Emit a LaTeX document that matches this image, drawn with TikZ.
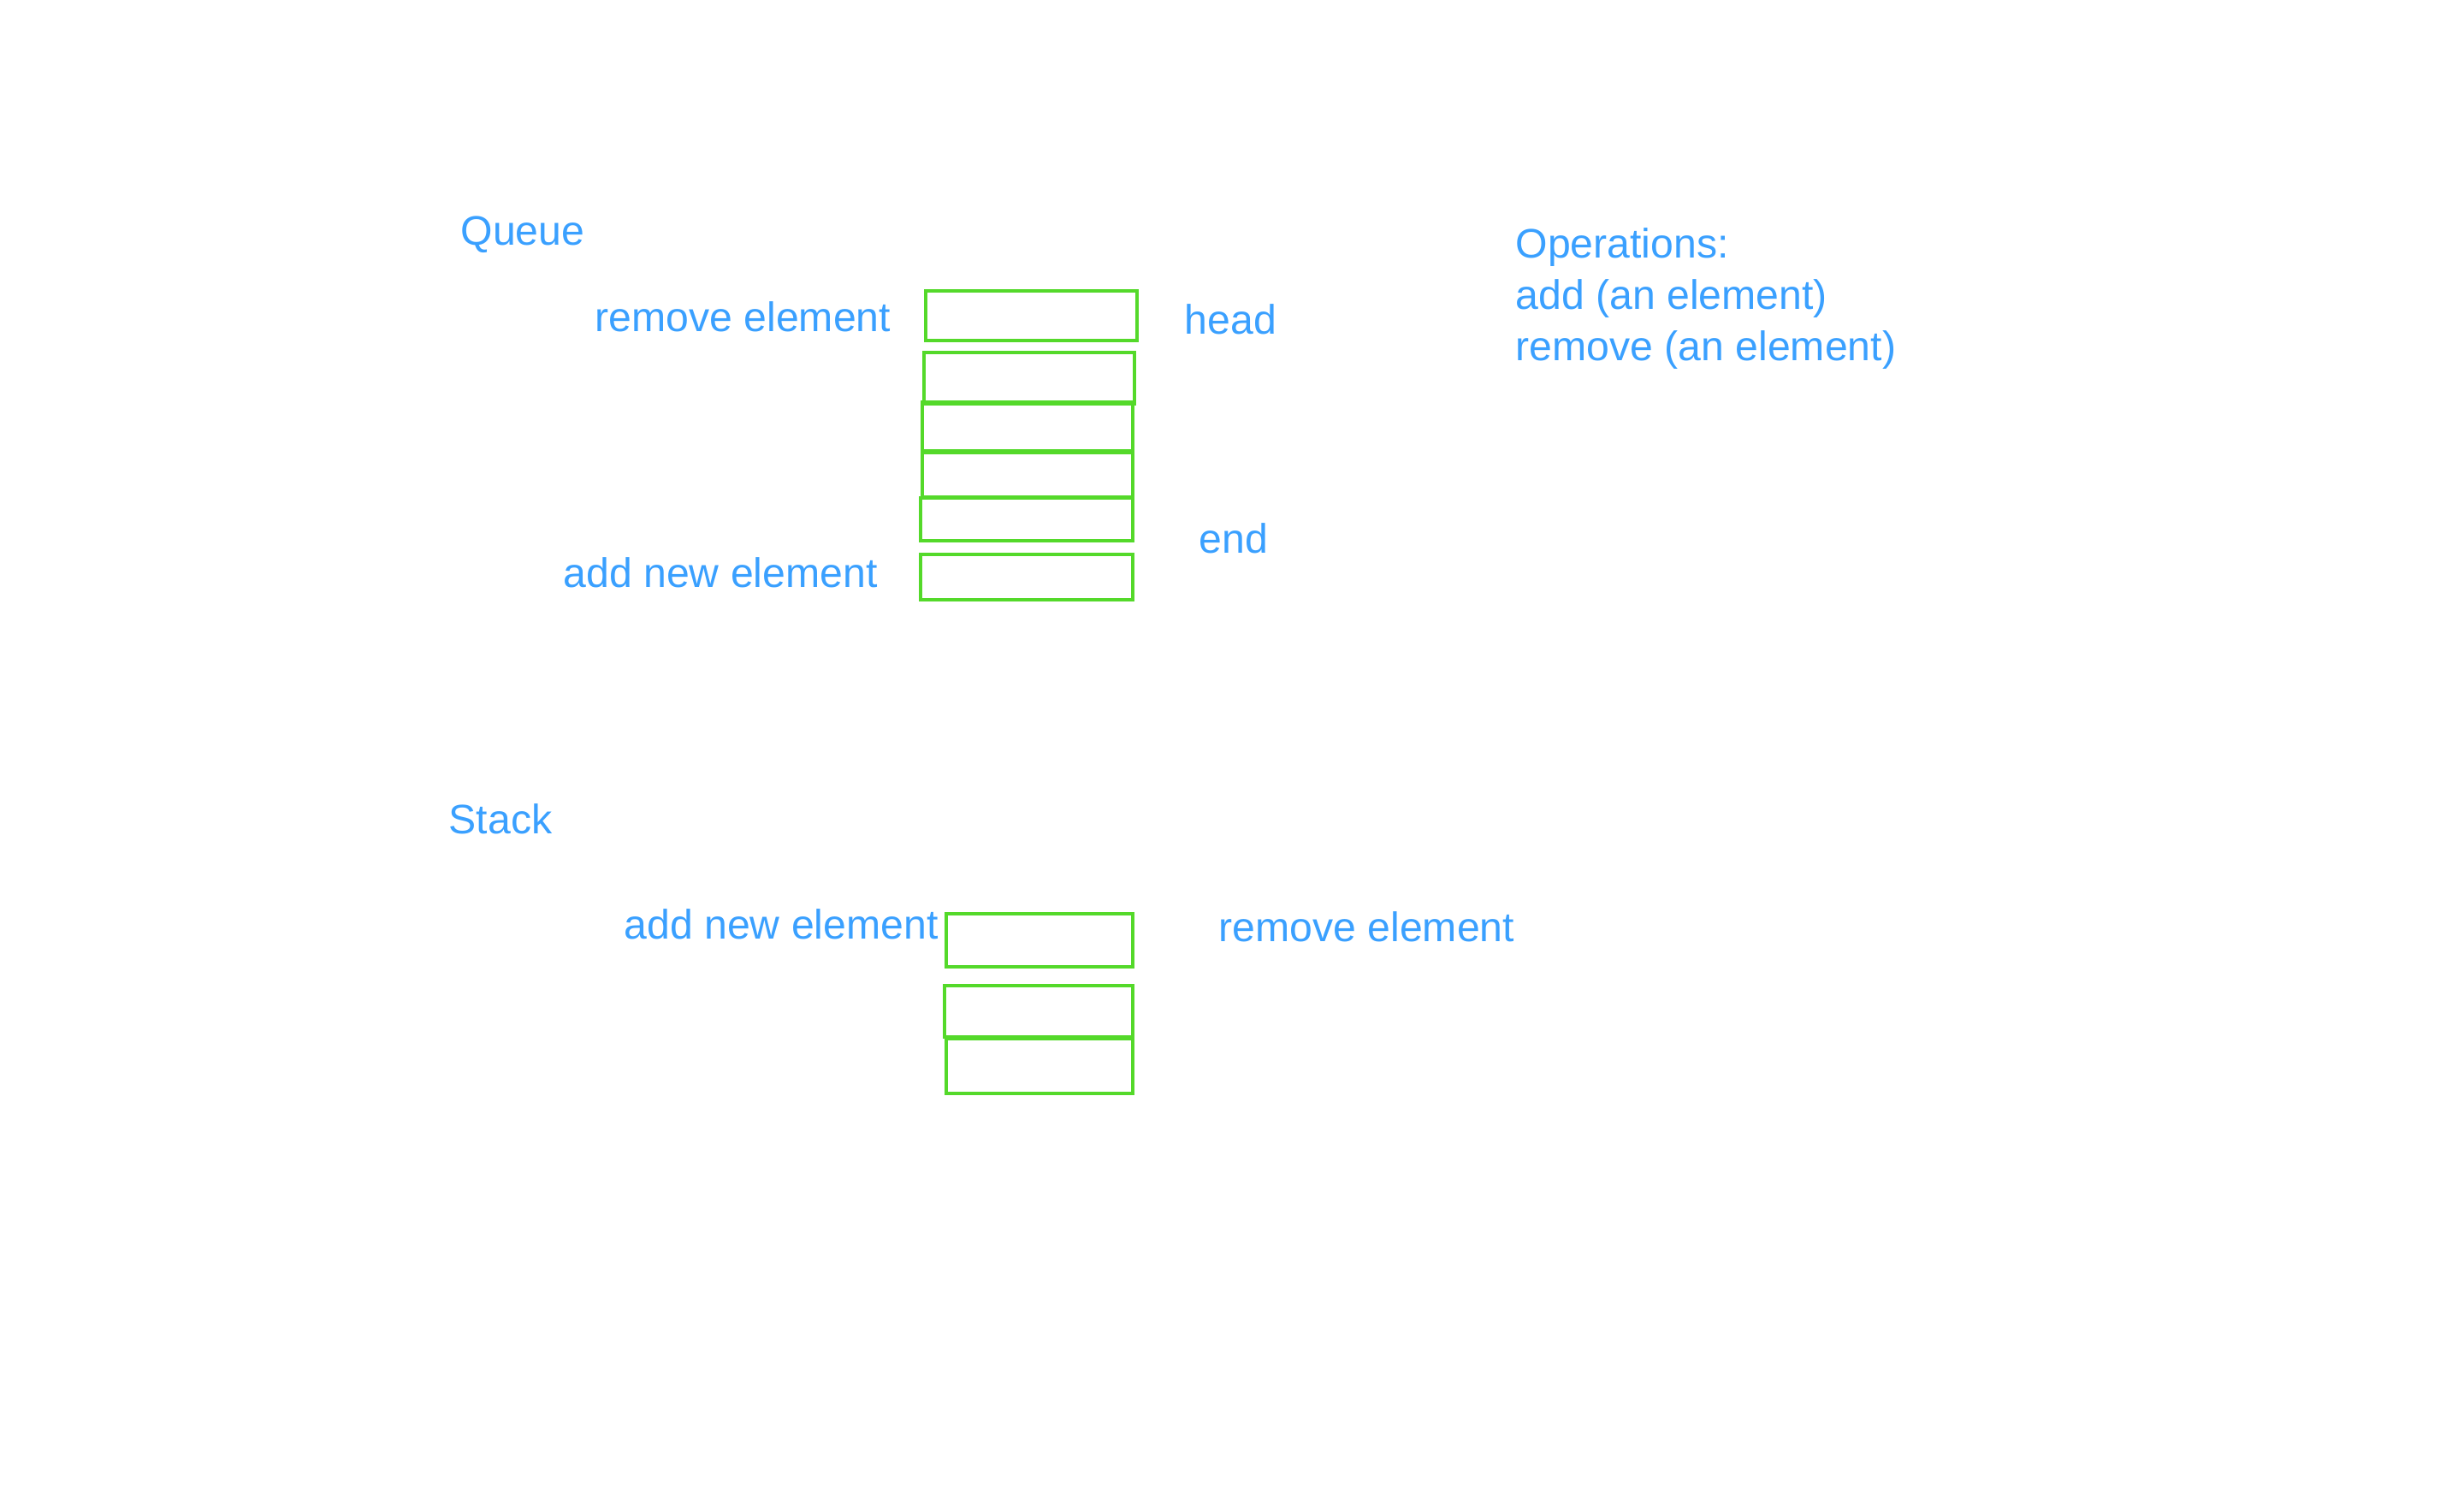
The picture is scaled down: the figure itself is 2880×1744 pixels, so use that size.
\documentclass[tikz,border=0pt]{standalone}
\usepackage{fontspec}
\setmainfont{Liberation Sans}
\definecolor{labelblue}{RGB}{58,160,255}
\definecolor{cellgreen}{RGB}{84,217,42}
\tikzset{
  lbl/.style={text=labelblue, anchor=base west, inner sep=0pt,
    font=\fontsize{13.7}{17}\selectfont},
  cell/.style={draw=cellgreen, line width=1.1pt, rectangle, inner sep=0pt}
}

\begin{document}
\begin{tikzpicture}[x=0.01cm,y=-0.01cm]
    \useasboundingbox (0,0) rectangle (2880,1744);
    % queue
    \node [lbl] (queue) at (538,286) {Queue};
    \node [cell, minimum width=2.47cm, minimum height=0.58cm] (q1) at (1205.5,369) {};
    \node [cell, minimum width=2.46cm, minimum height=0.60cm] (q2) at (1203,442) {};
    \node [cell, minimum width=2.46cm, minimum height=0.57cm] (q3) at (1201,498.5) {};
    \node [cell, minimum width=2.46cm, minimum height=0.52cm] (q4) at (1201,555) {};
    \node [cell, minimum width=2.48cm, minimum height=0.50cm] (q5) at (1200,607) {};
    \node [cell, minimum width=2.48cm, minimum height=0.53cm] (q6) at (1200,674.5) {};
    \node [lbl] (qremove) at (695,387) {remove element};
    \node [lbl] (qadd) at (658,686) {add new element};
    \node [lbl] (head) at (1384,390) {head};
    \node [lbl] (end) at (1401,646) {end};
    % operations
    \node [lbl] (ops) at (1771,301) {Operations:};
    \node [lbl] (opadd) at (1771,361) {add (an element)};
    \node [lbl] (opremove) at (1771,421) {remove (an element)};
    % stack
    \node [lbl] (stack) at (524,974) {Stack};
    \node [cell, minimum width=2.18cm, minimum height=0.62cm] (s1) at (1215,1099) {};
    \node [cell, minimum width=2.20cm, minimum height=0.60cm] (s2) at (1214,1182) {};
    \node [cell, minimum width=2.18cm, minimum height=0.64cm] (s3) at (1215,1246) {};
    \node [lbl] (sadd) at (729,1097) {add new element};
    \node [lbl] (sremove) at (1424,1100) {remove element};
\end{tikzpicture}
\end{document}
